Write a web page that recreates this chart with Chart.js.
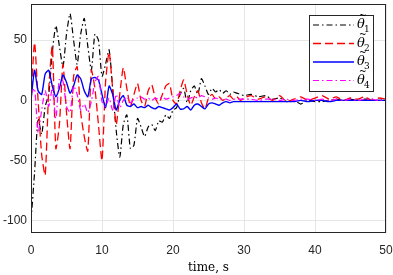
<!DOCTYPE html>
<html>
<head>
<meta charset="utf-8">
<script src="https://cdn.jsdelivr.net/npm/chart.js@4"></script>
<style>
  html, body { margin: 0; padding: 0; background: #fff; }
  #wrap { width: 393px; height: 275px; position: relative; }
</style>
</head>
<body>
<div id="wrap"><canvas id="chart" width="393" height="275"></canvas></div>
<script>
// time samples (s)
const timeS = [
  0, 0.5, 1, 1.5, 2, 2.5, 3, 3.5, 4, 4.5, 5, 5.5, 6, 6.5, 7, 7.5, 8, 8.5, 9, 9.5,
  10, 10.5, 11, 11.5, 12, 12.5, 13, 13.5, 14, 14.5, 15, 15.5, 16, 16.5, 17, 17.5, 18, 18.5, 19, 19.5,
  20, 20.5, 21, 21.5, 22, 22.5, 23, 23.5, 24, 24.5, 25, 25.5, 26, 26.5, 27, 27.5, 28, 28.5, 29, 29.5,
  30, 31, 32, 33, 34, 35, 36, 37, 38, 39, 40, 41, 42, 43, 44, 45, 46, 47, 48, 49, 50
];

// estimation errors
const theta1 = [
  -100, -60, -15, -28, -5, 5, 40, 62, 45, 28, 55, 72, 50, 30, 55, 68, 45, 25, 55, 50,
  20, 30, 42, 10, -25, -47, -20, -12, -40, -37, -15, -22, -30, -22, -20, -25, -17, -18, -12, -15,
  -8, -6, 5, 10, -2, 8, 12, 5, 18, 12, 5, 10, 7, 9, 6, 8, 5, 7, 6, 5,
  4, 5, 3, 4, 1, 2, -1, 0, -3, 0, -1, -1, 0, 1, 0, 1, 0, 1, 1, 0, 1
];
const theta2 = [
  0, 48, 0, -45, -62, 10, 45, -40, -20, 30, -10, -40, 20, 28, -10, -30, -42, 25, 10, -20,
  -50, 15, 40, 10, -20, 5, 27, 10, -5, 5, 14, 0, -5, 8, 13, 2, -3, 5, 12, 14,
  0, -3, 8, 17, 5, -4, 3, 8, -2, -7, 2, 5, 1, 3, 0, 2, 4, 1, 3, 0,
  2, 4, 1, 3, 0, 4, -1, 1, 3, 0, 2, 4, 1, 3, 0, 2, 1, 3, 0, 2, 1
];
const theta3 = [
  0, 25, 8, 5, 22, 25, 12, 3, 10, 21, 15, 6, 12, 21, 18, 8, 3, 18, 19, 17,
  5, -6, 12, 5, -8, 0, 4, -4, -5, -3, -6, -5, -6, -4, -6, -7, -5, -6, -7, -8,
  -6, -3, -7, -7, -5, -8, -4, -3, -5, -7, -3, -2, -3, -4, -2, -1, -2, -1, -1, -1,
  -1, -1, -1, -1, -1, -1, -1, -1, 0, -1, 0, 0, -1, 0, 0, 0, 0, 0, 0, 0, 0
];
const theta4 = [
  5, 10, -27, -8, 8, -5, 10, -15, 18, 16, -5, -10, 12, 5, -8, -3, -10, -1, 15, 20,
  -1, -5, 2, -8, 5, -6, 0, 3, -2, 1, 2, 3, 1, 2, 0, 2, 1, 3, 1, 2,
  3, 4, 6, 3, 1, 2, 3, 2, 4, 3, 2, 1, 2, 1, 1, 1, 0, 1, 1, 1,
  1, 1, 0, 1, 1, 0, 1, 0, 1, 1, 0, 1, 0, 1, 0, 1, 0, 1, 1, 0, 1
];

const xTicks = [0, 10, 20, 30, 40, 50];
const yTicks = [-100, -50, 0, 50];
const seriesSub = ['1', '2', '3', '4'];

function pts(vals) {
  return timeS.map((t, i) => ({ x: t, y: vals[i] }));
}

const series = [
  { data: theta1, color: '#000000', dash: [6, 3, 1.5, 3], width: 1.2 },
  { data: theta2, color: '#ff0000', dash: [8, 4], width: 1.3 },
  { data: theta3, color: '#0000ff', dash: [], width: 1.4 },
  { data: theta4, color: '#ff00ff', dash: [6, 3, 1.5, 3], width: 1.2 }
];

// box around the axes plus legend
const boxPlugin = {
  id: 'boxPlugin',
  afterDraw(chart) {
    const ctx = chart.ctx;
    const a = chart.chartArea;
    ctx.save();
    ctx.strokeStyle = '#262626';
    ctx.lineWidth = 1;
    ctx.setLineDash([]);
    ctx.strokeRect(a.left + 0.5, a.top + 0.5, a.right - a.left - 1, a.bottom - a.top - 1);

    // legend
    const lx = 309, ly = 15, lw = 65, lh = 77;
    ctx.fillStyle = '#ffffff';
    ctx.fillRect(lx, ly, lw, lh);
    ctx.strokeStyle = '#262626';
    ctx.lineWidth = 1;
    ctx.strokeRect(lx + 0.5, ly + 0.5, lw - 1, lh - 1);
    series.forEach((s, i) => {
      const y = 25 + i * 18.5;
      ctx.strokeStyle = s.color;
      ctx.lineWidth = s.width;
      ctx.setLineDash(s.dash);
      ctx.beginPath();
      ctx.moveTo(313, y);
      ctx.lineTo(354, y);
      ctx.stroke();
      ctx.setLineDash([]);
      ctx.fillStyle = '#000';
      ctx.textBaseline = 'middle';
      ctx.font = 'italic 13px "DejaVu Serif"';
      ctx.fillText('\u03b8', 357, y);
      ctx.font = '9px "DejaVu Serif"';
      ctx.fillText('~', 359, y - 9);
      ctx.fillText(seriesSub[i], 364, y + 5);
    });
    ctx.restore();
  }
};

new Chart(document.getElementById('chart'), {
  type: 'line',
  data: {
    datasets: series.map((s, i) => ({
      data: pts(s.data),
      borderColor: s.color,
      borderWidth: s.width,
      borderDash: s.dash,
      pointRadius: 0,
      tension: 0.2,
      fill: false,
      order: 4 - i
    }))
  },
  options: {
    responsive: false,
    animation: false,
    layout: { padding: { top: 4, right: 7, left: 0, bottom: 0 } },
    plugins: { legend: { display: false }, tooltip: { enabled: false } },
    scales: {
      x: {
        type: 'linear',
        min: 0, max: 50,
        afterBuildTicks: sc => { sc.ticks = xTicks.map(v => ({ value: v })); },
        afterFit: sc => { sc.height = 42; sc.paddingLeft = 0; sc.paddingRight = 0; },
        grid: { color: '#e6e6e6', drawTicks: false },
        border: { display: false },
        ticks: { padding: 10, color: '#262626', font: { family: 'Liberation Sans', size: 12 } },
        title: { display: true, text: 'time, s', color: '#000', padding: { top: 0, bottom: 0 },
                 font: { family: 'DejaVu Serif', size: 12 } }
      },
      y: {
        type: 'linear',
        min: -110, max: 80,
        afterBuildTicks: sc => { sc.ticks = yTicks.map(v => ({ value: v })); },
        afterFit: sc => { sc.width = 31; sc.paddingTop = 0; sc.paddingBottom = 0; },
        grid: { color: '#e6e6e6', drawTicks: false },
        border: { display: false },
        ticks: { padding: 4, color: '#262626', font: { family: 'Liberation Sans', size: 12 } }
      }
    }
  },
  plugins: [boxPlugin]
});
</script>
</body>
</html>
